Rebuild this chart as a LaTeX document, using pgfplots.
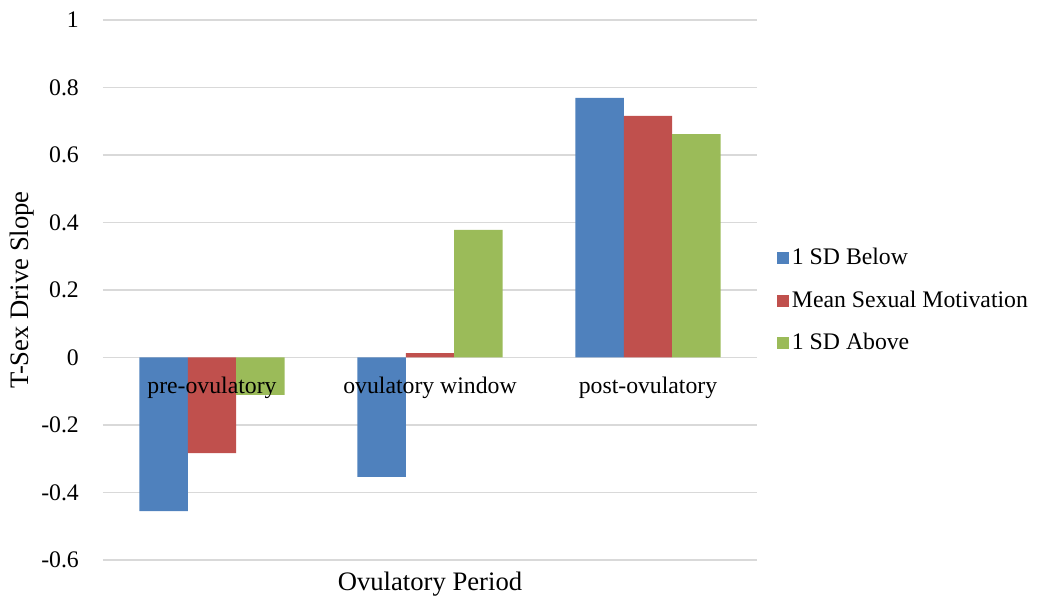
\documentclass[border=0pt]{standalone}
\usepackage{fontspec}
\setmainfont{Liberation Serif}
\usepackage{pgfplots}
\pgfplotsset{compat=1.18}

\definecolor{sdbelow}{HTML}{4F81BD}
\definecolor{sdmean}{HTML}{C0504D}
\definecolor{sdabove}{HTML}{9BBB59}
\definecolor{gridgray}{HTML}{D9D9D9}

\newcommand{\chartfont}{\fontsize{17.8}{21}\selectfont}
\newcommand{\titlefont}{\fontsize{20}{24}\selectfont}

\begin{document}
\chartfont
\begin{tikzpicture}
\begin{axis}[
    scale only axis,
    width=490.5pt, height=405pt,
    xmin=-0.5, xmax=2.5,
    ymin=-0.6, ymax=1,
    axis line style={draw=none},
    tick style={draw=none},
    ybar, bar width=0.222,
    xtick=\empty,
    ytick={-0.6,-0.4,...,1.01},
    yticklabels={-0.6,-0.4,-0.2,0,0.2,0.4,0.6,0.8,1},
    ymajorgrids,
    grid style={gridgray, line width=1.2pt},
    yticklabel style={xshift=-12pt, font=\chartfont},
    /pgf/number format/assume math mode=true,
    ylabel={T-Sex Drive Slope},
    every axis y label/.style={at={(axis description cs:-0.123,0.5)}, rotate=90, anchor=center, font=\titlefont},
    xlabel={Ovulatory Period},
    every axis x label/.style={at={(axis description cs:0.5,-0.045)}, anchor=center, font=\titlefont},
    legend style={draw=none, fill=none, at={(axis description cs:1,0.48)}, anchor=west,
        xshift=15pt, row sep=13pt, cells={anchor=west}, inner sep=0pt, font=\chartfont},
    legend image code/.code={\fill[#1] (-2pt,-4.5pt) rectangle (7pt,4.5pt);},
]
\addplot[fill=sdbelow, draw=none, bar shift=-0.222] coordinates {(0,-0.455) (1,-0.354) (2,0.769)};
\addplot[fill=sdmean, draw=none, bar shift=0] coordinates {(0,-0.283) (1,0.013) (2,0.716)};
\addplot[fill=sdabove, draw=none, bar shift=0.222] coordinates {(0,-0.111) (1,0.378) (2,0.662)};
\legend{1 SD Below, Mean Sexual Motivation, 1 SD Above}
\node[anchor=base, yshift=-27pt, font=\chartfont] at (axis cs:0,0) {pre-ovulatory};
\node[anchor=base, yshift=-27pt, font=\chartfont] at (axis cs:1,0) {ovulatory window};
\node[anchor=base, yshift=-27pt, font=\chartfont] at (axis cs:2,0) {post-ovulatory};
\coordinate (ll) at (rel axis cs:0,0);
\coordinate (ur) at (rel axis cs:1,1);
\end{axis}
\pgfresetboundingbox
\path[use as bounding box] ([shift={(-77.25pt,-27pt)}]ll) rectangle ([shift={(210.75pt,15pt)}]ur);
\end{tikzpicture}
\end{document}
